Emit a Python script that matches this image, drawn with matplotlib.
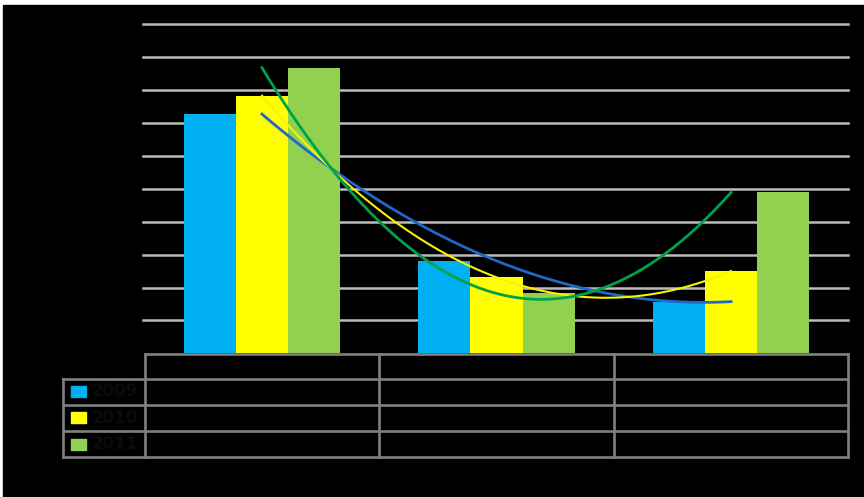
import numpy as np
import matplotlib
matplotlib.use('Agg')
from matplotlib import pyplot as plt
from matplotlib.patches import Rectangle

# values (one gridline = 10 units)
categories = ['', '', '']
years = ['2009', '2010', '2011']
values2009 = [72.7, 28.1, 15.7]
values2010 = [78.3, 23.1, 25.0]
values2011 = [86.8, 18.2, 48.9]

barColors = ['#00b0f0', '#ffff00', '#92d050']
trendColors = ['#1f68c8', '#f5f500', '#00a14b']
trendWidths = [2.0, 1.5, 2.0]

W, H = 864, 497
fig = plt.figure(figsize=[W / 100, H / 100], dpi=100)
fig.patch.set_facecolor('white')

# black background with thin white strip on top and left
bg = fig.add_axes([0, 0, 1, 1], zorder=-5)
bg.set_xlim(0, W)
bg.set_ylim(H, 0)
bg.axis('off')
bg.add_patch(Rectangle((3, 5), W - 3, H - 5, color='black'))

# plot area in pixels
left, right = 144.75, 848.25
top, bottom = 24.3, 353.3
ax = fig.add_axes([left / W, 1 - bottom / H, (right - left) / W, (bottom - top) / H])
ax.set_facecolor('none')
ax.set_xlim(-0.5, 2.5)
ax.set_ylim(0, 100)
for y in range(10, 101, 10):
    ax.axhline(y, xmin=-0.003, color='#bcbcbc', lw=1.8, zorder=1, clip_on=False)

x = np.arange(len(categories))
width = 0.222
series = [values2009, values2010, values2011]
for i, vals in enumerate(series):
    ax.bar(x + (i - 1) * width, vals, width=width, color=barColors[i], zorder=2)

# polynomial (order 2) trend lines
xs = np.linspace(0, 2, 100)
for i, vals in enumerate(series):
    coef = np.polyfit(x, vals, 2)
    ax.plot(xs, np.polyval(coef, xs), color=trendColors[i], lw=trendWidths[i], zorder=3)

for s in ax.spines.values():
    s.set_visible(False)
ax.set_xticks([])
ax.set_yticks([])

# data table below the plot
tab = fig.add_axes([0, 0, 1, 1], zorder=5)
tab.set_facecolor('none')
tab.set_xlim(0, W)
tab.set_ylim(H, 0)
tab.axis('off')

catW = (right - left) / len(categories)
colEdges = [left + k * catW for k in range(len(categories) + 1)]
rowEdges = [354, 378.5, 404.5, 431, 457]
labelLeft = 62.5
gridColor = '#808080'
lw = 1.9

# horizontal lines
tab.plot([colEdges[0], colEdges[-1]], [rowEdges[0]] * 2, color=gridColor, lw=lw)
for r in rowEdges[1:]:
    tab.plot([labelLeft, colEdges[-1]], [r, r], color=gridColor, lw=lw)
# vertical lines
for c in colEdges:
    tab.plot([c, c], [rowEdges[0], rowEdges[-1]], color=gridColor, lw=lw)
tab.plot([labelLeft, labelLeft], [rowEdges[1], rowEdges[-1]], color=gridColor, lw=lw)

for k, cat in enumerate(categories):
    tab.text((colEdges[k] + colEdges[k + 1]) / 2, (rowEdges[0] + rowEdges[1]) / 2, cat,
             color='#0c0c0c', ha='center', va='center', fontsize=10)

for i, year in enumerate(years):
    yc = (rowEdges[i + 1] + rowEdges[i + 2]) / 2
    tab.add_patch(Rectangle((71, yc - 5.5), 14.5, 11, color=barColors[i]))
    tab.text(92, yc, year, color='#0b0b0b', ha='left', va='center', fontsize=12,
             fontweight='bold')

plt.savefig('out.png', dpi=100, facecolor=fig.get_facecolor())
plt.close()
